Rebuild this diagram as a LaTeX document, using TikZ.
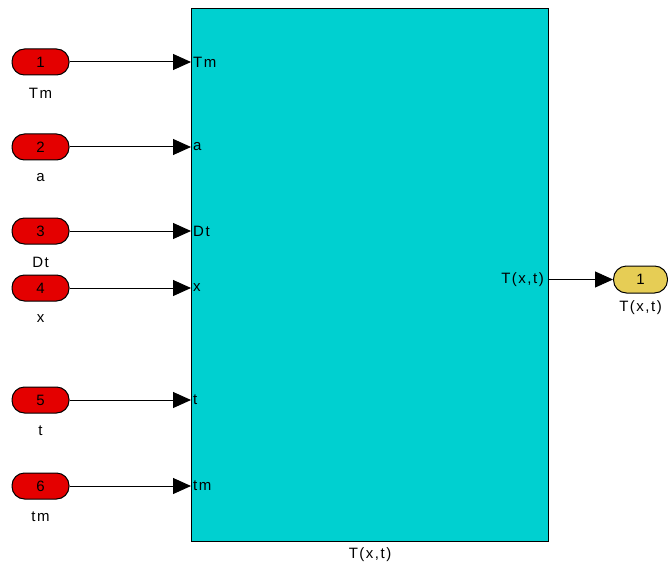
\documentclass[tikz,border=0pt]{standalone}
\usepackage{fontspec}
\setmainfont{Liberation Sans}[LetterSpace=10]
\usetikzlibrary{arrows.meta}
\definecolor{blkcyan}{RGB}{0,208,208}
\definecolor{inred}{RGB}{228,0,0}
\definecolor{outyel}{RGB}{230,205,85}
\tikzset{
  pill/.style={draw=black, line width=1pt, rounded corners=12.5pt, minimum width=57pt, minimum height=26pt, inner sep=0pt, font=\fontsize{15}{15}\selectfont},
  inport/.style={pill, fill=inred},
  outport/.style={pill, fill=outyel, minimum width=54pt, minimum height=27pt, rounded corners=13pt},
  lbl/.style={font=\fontsize{15}{15}\selectfont, inner sep=0pt},
  sig/.style={line width=1pt, -{Triangle[length=18pt,width=16pt]}},
}
\begin{document}
\begin{tikzpicture}[x=1pt,y=-1pt]
\useasboundingbox[fill=white] (0,0) rectangle (668,569);
\node[draw=black, line width=1.3pt, fill=blkcyan, minimum width=357pt, minimum height=533pt, inner sep=0pt, anchor=north west] (blk) at (191,8) {};
% inports
\foreach \i/\y/\t in {1/62/Tm, 2/147/a, 3/231/Dt, 4/288/x, 5/400/t, 6/486/tm}{
  \node[inport] (in\i) at (40.5,\y) {\i};
  \node[lbl] (lab\i) at (40.5,\y+31) {\t};
  \node[lbl, anchor=west] (p\i) at (193,\y) {\t};
  \draw[sig] (in\i.east) -- (in\i.east -| blk.west);
}
% output
\node[outport] (out1) at (640.5,279.5) {1};
\node[lbl] (outlab) at (640.5,308) {T(x,t)};
\node[lbl, anchor=east] (po) at (544,279.5) {T(x,t)};
\coordinate (bo) at (blk.east |- out1);
\draw[sig] (bo) -- (out1.west);
\node[lbl] (blklab) at (370,555) {T(x,t)};
\end{tikzpicture}
\end{document}
